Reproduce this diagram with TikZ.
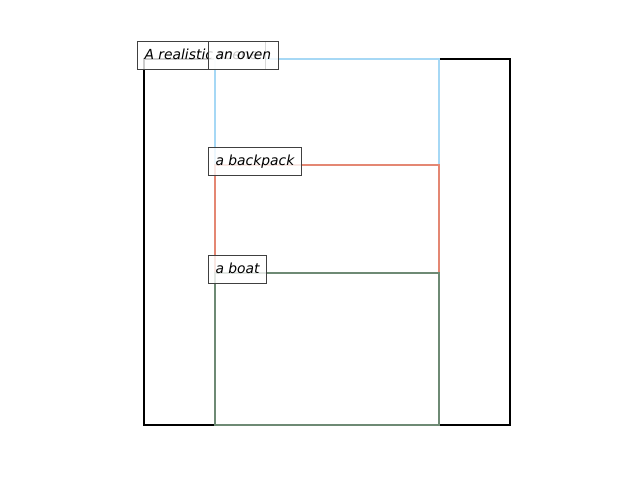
\documentclass[tikz,border=0pt]{standalone}
\usepackage{fontspec}
\setmainfont{DejaVu Sans}
\definecolor{ovenblue}{RGB}{166,216,245}
\definecolor{packred}{RGB}{228,135,115}
\definecolor{boatgreen}{RGB}{110,138,116}
\begin{document}
\begin{tikzpicture}[x=0.75pt,y=-0.75pt,
  region/.style={line width=2.2pt},
  tag/.style={anchor=base west, draw=black!75, line width=0.8pt,
    fill=white, fill opacity=0.8, text opacity=1,
    inner xsep=5.25pt, inner ysep=5.25pt,
    text height=8pt, text depth=2.5pt,
    font=\fontsize{10.4}{12}\selectfont\itshape}]
  \useasboundingbox (0,0) rectangle (640,480);
  % scene frame and the three object regions
  \draw[region, black] (144,59) rectangle (510,425);
  \draw[region, ovenblue] (215,59) rectangle (439,165);
  \draw[region, packred] (215,165) rectangle (439,273);
  \draw[region, boatgreen] (215,273) rectangle (439,425);
  % captions sitting on the upper-left corner of each region
  \node[tag] (scene) at (137,59) {A realistic scene};
  \node[tag] (oven) at (208,59) {an oven};
  \node[tag] (pack) at (208,165) {a backpack};
  \node[tag] (boat) at (208,273) {a boat};
\end{tikzpicture}
\end{document}
